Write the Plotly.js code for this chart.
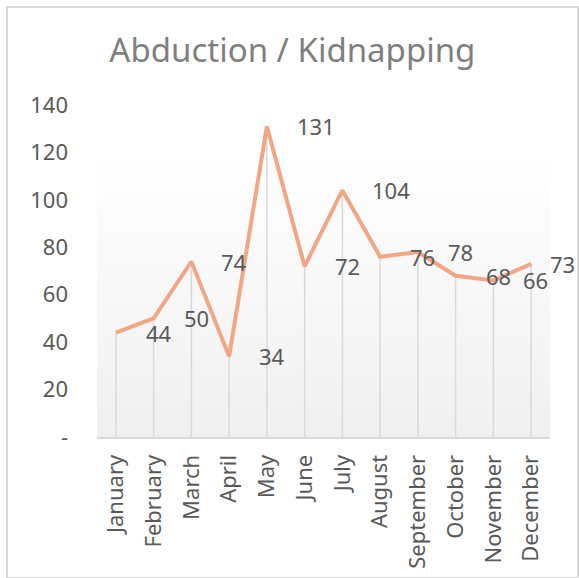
<!DOCTYPE html>
<html>
<head>
<meta charset="utf-8">
<script src="https://cdn.plot.ly/plotly-3.0.1.min.js"></script>
<style>
  html, body { margin: 0; padding: 0; background: #ffffff; }
  #chart { width: 579px; height: 578px; position: relative; }
  #frame { position: absolute; left: 6px; top: 6px; width: 569px; height: 569px;
           border: 2px solid #d9d9d9; pointer-events: none; }
</style>
</head>
<body>
<div id="chart"></div>
<div id="frame"></div>
<script>
const months = ["January","February","March","April","May","June","July","August","September","October","November","December"];
const values = [44, 50, 74, 34, 131, 72, 104, 76, 78, 68, 66, 73];
const yTickVals = [0, 20, 40, 60, 80, 100, 120, 140];
const yTickText = ["-", "20", "40", "60", "80", "100", "120", "140"];
const titleText = "Abduction / Kidnapping";

const FONT = "Noto Sans, Open Sans, sans-serif";
const labelShift = months.map((m, i) => i === months.length - 1 ? 17 : 28);

const gradSvg = '<svg xmlns="http://www.w3.org/2000/svg" width="10" height="100" preserveAspectRatio="none">' +
  '<defs><linearGradient id="g" x1="0" y1="0" x2="0" y2="1">' +
  '<stop offset="0" stop-color="#ffffff"/><stop offset="1" stop-color="#f0f0f0"/></linearGradient></defs>' +
  '<rect width="10" height="100" fill="url(#g)"/></svg>';
const gradUri = 'data:image/svg+xml;base64,' + btoa(gradSvg);

const dropLines = {
  x: months, y: values, type: 'scatter', mode: 'markers',
  marker: { size: 1, opacity: 0 },
  error_y: { type: 'data', symmetric: false, array: values.map(() => 0), arrayminus: values,
             color: '#d9d9d9', thickness: 1.5, width: 0 },
  hoverinfo: 'skip', showlegend: false
};
const line = {
  x: months, y: values, type: 'scatter', mode: 'lines',
  line: { color: '#f1a686', width: 4 },
  showlegend: false
};

const annotations = values.map((v, i) => ({
  x: months[i], y: v, xref: 'x', yref: 'y',
  text: String(v), showarrow: false,
  xanchor: 'left', yanchor: 'middle', xshift: labelShift[i],
  font: { family: FONT, size: 22, color: '#595959' }
}));

const layout = {
  width: 579, height: 578,
  margin: { l: 97, r: 29, t: 105, b: 141, pad: 0 },
  paper_bgcolor: '#ffffff', plot_bgcolor: 'rgba(0,0,0,0)',
  title: { text: titleText, x: 0.505, xanchor: 'center', xref: 'container', y: 0.912, yanchor: 'middle', yref: 'container',
           font: { family: FONT, size: 33, color: '#7f7f7f' } },
  xaxis: {
    type: 'category', range: [-0.5, 11.5], tickangle: -90,
    showgrid: false, zeroline: false, showline: true, linecolor: '#d9d9d9', linewidth: 2,
    ticks: '', ticklabelstandoff: 7,
    tickfont: { family: FONT, size: 22, color: '#595959' }, fixedrange: true
  },
  yaxis: {
    range: [0, 140], tickvals: yTickVals, ticktext: yTickText,
    showgrid: false, zeroline: false, showline: false, ticks: '',
    ticklabelstandoff: 28,
    tickfont: { family: FONT, size: 22, color: '#595959' }, fixedrange: true
  },
  images: [{
    source: gradUri, xref: 'paper', yref: 'paper', x: 0, y: 0.87, sizex: 1, sizey: 0.87,
    xanchor: 'left', yanchor: 'top', sizing: 'stretch', layer: 'below'
  }],
  annotations: annotations
};

Plotly.newPlot('chart', [dropLines, line], layout, { displayModeBar: false, staticPlot: true });
</script>
</body>
</html>
